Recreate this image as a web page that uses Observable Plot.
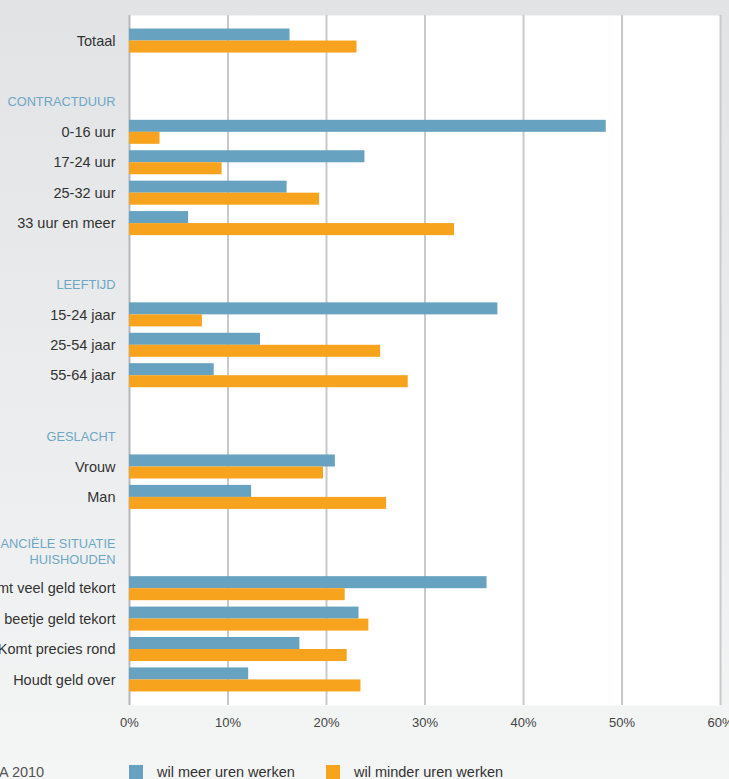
<!DOCTYPE html>
<html><head><meta charset="utf-8">
<script src="https://cdn.jsdelivr.net/npm/d3@7"></script>
<script src="https://cdn.jsdelivr.net/npm/@observablehq/plot@0.6"></script>
<style>
body{margin:0;width:729px;height:779px;overflow:hidden;background:linear-gradient(#e1e3e5,#f4f5f5);font-family:"Liberation Sans",Arial,sans-serif;}
#wrap{position:relative;width:729px;height:779px;overflow:hidden;}
#legend{position:absolute;top:765px;left:0;width:729px;height:20px;font-size:14.5px;color:#333;}
#legend .sq{position:absolute;top:0;width:14px;height:14px;}
#legend .lb{position:absolute;top:0;line-height:15px;white-space:nowrap;}
</style></head><body><div id="wrap"><div id="chart"></div><div id="legend"></div></div>
<script>
// y slots (rows, group headers and blank spacer rows)
const slots = ["Totaal"," 1","CONTRACTDUUR","0-16 uur","17-24 uur","25-32 uur","33 uur en meer"," 2","LEEFTIJD","15-24 jaar","25-54 jaar","55-64 jaar"," 3","GESLACHT","Vrouw","Man"," 4","FINANCIËLE SITUATIE\nHUISHOUDEN","Komt veel geld tekort","Komt een beetje geld tekort","Komt precies rond","Houdt geld over"];
const headers = ["CONTRACTDUUR","LEEFTIJD","GESLACHT"];
const headersTwoLine = ["FINANCIËLE SITUATIE\nHUISHOUDEN"];
const categories = ["Totaal","0-16 uur","17-24 uur","25-32 uur","33 uur en meer","15-24 jaar","25-54 jaar","55-64 jaar","Vrouw","Man","Komt veel geld tekort","Komt een beetje geld tekort","Komt precies rond","Houdt geld over"];
const meerUren   = [16.3, 48.4, 23.9, 16.0, 6.0, 37.4, 13.3, 8.6, 20.9, 12.4, 36.3, 23.3, 17.3, 12.1];
const minderUren = [23.1, 3.1, 9.4, 19.3, 33.0, 7.4, 25.5, 28.3, 19.7, 26.1, 21.9, 24.3, 22.1, 23.5];
const seriesNames = ["wil meer uren werken","wil minder uren werken"];
const seriesColors = ["#67a2c1","#f8a31e"];
const xTicks = [0,10,20,30,40,50,60];
const sourceText = "A 2010";

const rows = categories.map((c,i)=>({cat:c, meer:meerUren[i], minder:minderUren[i]}));

const plot = Plot.plot({
  width: 729, height: 745,
  marginLeft: 129, marginRight: 9, marginTop: 15, marginBottom: 40,
  style: {background:"transparent", fontFamily:"'Liberation Sans', Arial, sans-serif", overflow:"visible"},
  x: {domain:[0,60]},
  y: {type:"band", domain: slots, paddingInner:0, paddingOuter:0.34, round:false, axis:null},
  marks: [
    Plot.frame({fill:"white", stroke:"none"}),
    Plot.ruleX(xTicks.slice(1), {stroke:"#c5cacd", strokeWidth:2}),
    Plot.ruleX([0], {stroke:"#b4b9bd", strokeWidth:2}),
    Plot.barX(rows, {x:"meer", y:"cat", fill:seriesColors[0], insetTop:3.2, insetBottom:15.2}),
    Plot.barX(rows, {x:"minder", y:"cat", fill:seriesColors[1], insetTop:15.2, insetBottom:3.2}),
    Plot.text(categories, {y:d=>d, text:d=>d, frameAnchor:"left", textAnchor:"end", dx:-14, fill:"#333", fontSize:14.5}),
    Plot.text(headers, {y:d=>d, text:d=>d, frameAnchor:"left", textAnchor:"end", dx:-14, fill:"#6ea7c5", fontSize:12.8}),
    Plot.text(headersTwoLine, {y:d=>d, text:d=>d, frameAnchor:"left", textAnchor:"end", dx:-14, dy:-7, lineHeight:1.25, fill:"#6ea7c5", fontSize:12.8}),
    Plot.axisX(xTicks, {tickSize:0, tickPadding:12, tickFormat:d=>d+"%", fontSize:13, fill:"#444"})
  ]
});
document.getElementById("chart").appendChild(plot);

const lg = document.getElementById("legend");
lg.innerHTML = `<span class="lb" style="left:-1px;color:#555">${sourceText}</span>
<span class="sq" style="left:129px;background:${seriesColors[0]}"></span><span class="lb" style="left:157px">${seriesNames[0]}</span>
<span class="sq" style="left:326px;background:${seriesColors[1]}"></span><span class="lb" style="left:354px">${seriesNames[1]}</span>`;
</script>
</body></html>
